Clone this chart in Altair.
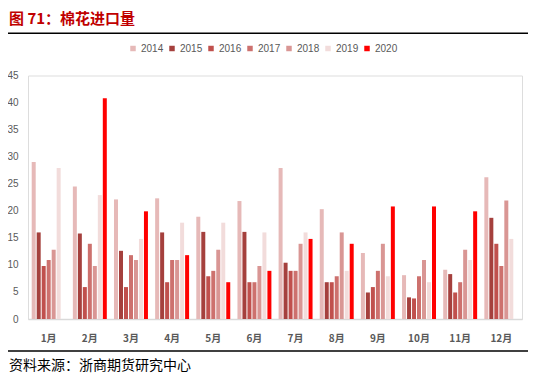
import altair as alt
import pandas as pd

months = ["1月", "2月", "3月", "4月", "5月", "6月", "7月", "8月", "9月", "10月", "11月", "12月"]
years = ["2014", "2015", "2016", "2017", "2018", "2019", "2020"]
colors = ["#e6b9b8", "#a5403d", "#c0504d", "#cd716e", "#d99694", "#f2dcdb", "#ff0000"]

v2014 = [29.0, 24.5, 22.1, 22.3, 18.9, 21.8, 27.9, 20.3, 12.2, 8.1, 9.1, 26.2]
v2015 = [16.0, 15.8, 12.6, 16.0, 16.1, 16.1, 10.4, 6.8, 4.9, 4.0, 8.3, 18.7]
v2016 = [9.8, 5.9, 5.9, 6.8, 7.9, 6.8, 8.9, 6.8, 5.9, 3.8, 4.9, 13.9]
v2017 = [10.9, 13.9, 11.8, 10.9, 8.9, 6.8, 8.9, 7.9, 8.9, 7.9, 6.8, 9.8]
v2018 = [12.8, 9.8, 10.9, 10.9, 12.8, 9.8, 13.9, 16.0, 13.9, 10.9, 12.8, 21.9]
v2019 = [27.9, 22.9, 14.8, 17.8, 17.8, 16.0, 16.0, 8.9, 7.9, 6.8, 10.9, 14.8]
v2020 = [None, 40.8, 19.9, 11.8, 6.8, 8.9, 14.8, 13.9, 20.8, 20.8, 19.9, None]

series = [v2014, v2015, v2016, v2017, v2018, v2019, v2020]
rows = []
for y, vals in zip(years, series):
    for m, v in zip(months, vals):
        if v is not None:
            rows.append({"month": m, "year": y, "value": v})
df = pd.DataFrame(rows)

W, H = 494, 243.5
CN = "Noto Sans CJK SC"
LAT = "Liberation Sans"

bars = alt.Chart(df).mark_bar().encode(
    x=alt.X("month:N", sort=months, scale=alt.Scale(paddingInner=0.175, paddingOuter=0.09),
            axis=alt.Axis(title=None, labelAngle=0, ticks=False, domainColor="#d9d9d9", domainWidth=1.5,
                          labelColor="#595959", labelFont=CN, labelFontSize=10, labelFontWeight="bold",
                          labelPadding=14, grid=False)),
    xOffset=alt.XOffset("year:N", sort=years, scale=alt.Scale(paddingInner=0.2)),
    y=alt.Y("value:Q", scale=alt.Scale(domain=[0, 45], nice=False),
            axis=alt.Axis(title=None, values=list(range(0, 46, 5)), ticks=False, domain=False, grid=False,
                          labelColor="#595959", labelFont=LAT, labelFontSize=10, labelPadding=10)),
    color=alt.Color("year:N", sort=years, scale=alt.Scale(domain=years, range=colors),
                    legend=alt.Legend(title=None, orient="none", direction="horizontal", legendX=100, legendY=-32,
                                      symbolType="square", symbolSize=30, symbolStrokeWidth=0,
                                      labelFont=LAT, labelFontSize=10, labelColor="#595959",
                                      columnPadding=3, labelOffset=3)),
)

title = alt.Chart(pd.DataFrame({"t": ["图 71：棉花进口量"]})).mark_text(
    align="left", baseline="middle", font=CN, fontSize=15, fontWeight="bold", color="#c00000"
).encode(x=alt.value(-19), y=alt.value(-56.5), text="t:N")

top_line = alt.Chart(pd.DataFrame({"a": [0]})).mark_rule(color="#000000", strokeWidth=1.5).encode(
    x=alt.value(-20), x2=alt.value(500), y=alt.value(-42.2))

bottom_line = alt.Chart(pd.DataFrame({"a": [0]})).mark_rule(color="#000000", strokeWidth=1.5).encode(
    x=alt.value(-20), x2=alt.value(500), y=alt.value(275.5))

source = alt.Chart(pd.DataFrame({"t": ["资料来源：浙商期货研究中心"]})).mark_text(
    align="left", baseline="middle", font=CN, fontSize=14, color="#000000"
).encode(x=alt.value(-19), y=alt.value(290.5), text="t:N")

chart = alt.layer(bars, title, top_line, bottom_line, source).properties(
    width=W, height=H,
    autosize=alt.AutoSizeParams(type="none"),
    padding={"left": 20, "top": 67.5, "right": 6, "bottom": 57},
).configure_view(stroke=None).configure(background="white")

chart.save("out.html", embed_options={"renderer": "svg", "actions": False})
